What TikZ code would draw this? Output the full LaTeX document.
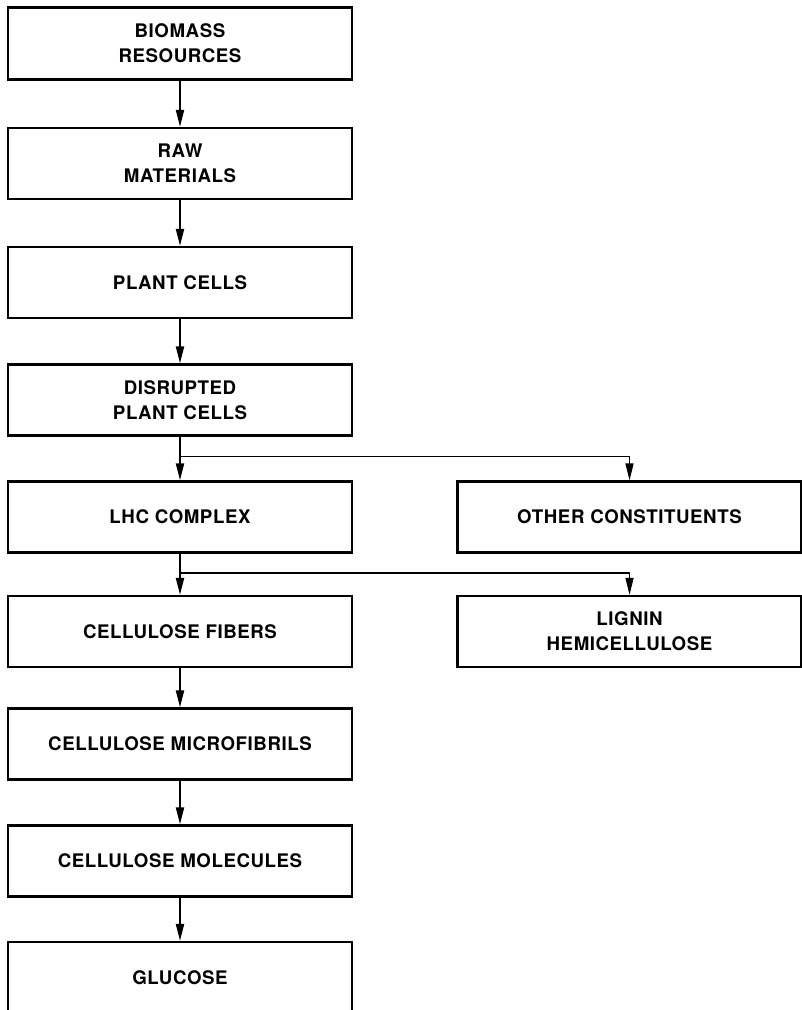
\documentclass[tikz,border=0pt]{standalone}
\usepackage{fontspec}
\newfontfamily\boxfont[LetterSpace=3]{TeX Gyre Heros}
\usetikzlibrary{arrows.meta}
\tikzset{
  stepbox/.style={draw, line width=2.2pt, rectangle, minimum width=344pt,
    minimum height=71pt, inner sep=0pt, align=center,
    font=\boxfont\bfseries\fontsize{18.7pt}{25pt}\selectfont},
  flow/.style={line width=2pt, -{Triangle[length=17pt,width=8pt]}},
  branch/.style={line width=1.4pt, -{Triangle[length=17pt,width=8pt]}}
}
\begin{document}
\begin{tikzpicture}[x=1pt,y=-1pt]
\useasboundingbox (0,0) rectangle (802,1010);
% main chain
\node[stepbox, minimum height=72pt] (b1) at (180,43.5) {BIOMASS\\RESOURCES};
\node[stepbox] (b2) at (180,163.5) {RAW\\MATERIALS};
\node[stepbox] (b3) at (180,282.5) {PLANT CELLS};
\node[stepbox] (b4) at (180,400) {DISRUPTED\\PLANT CELLS};
\node[stepbox] (b5) at (180,517) {LHC COMPLEX};
\node[stepbox] (b6) at (180,631.5) {CELLULOSE FIBERS};
\node[stepbox] (b7) at (180,744) {CELLULOSE MICROFIBRILS};
\node[stepbox] (b8) at (180,861) {CELLULOSE MOLECULES};
\node[stepbox] (b9) at (180,977.5) {GLUCOSE};
% side products
\node[stepbox] (o1) at (629.5,517) {OTHER CONSTITUENTS};
\node[stepbox] (o2) at (629.5,631.5) {LIGNIN\\HEMICELLULOSE};
% arrows down the chain
\foreach \a/\b in {b1/b2,b2/b3,b3/b4,b4/b5,b5/b6,b6/b7,b7/b8,b8/b9}
  \draw[flow] (\a.south) -- (\b.north);
% branches to the side products
\coordinate (j1) at (180,456.5);
\coordinate (j2) at (180,573);
\draw[branch] (j1) -| (o1.north);
\draw[branch] (j2) -| (o2.north);
\end{tikzpicture}
\end{document}
